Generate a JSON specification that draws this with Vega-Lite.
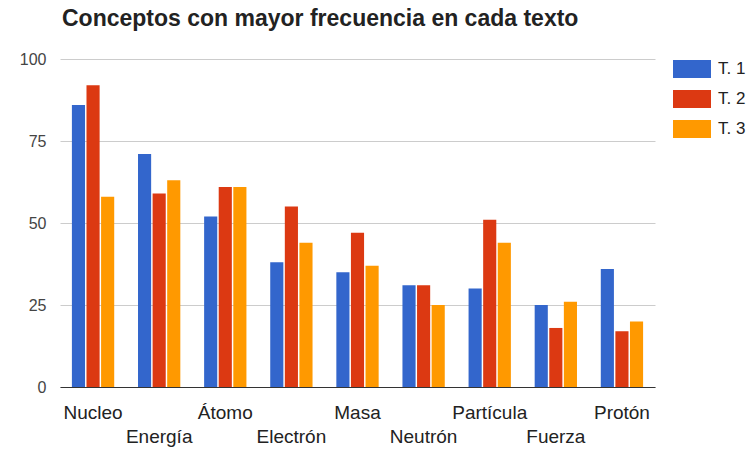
{
  "$schema": "https://vega.github.io/schema/vega-lite/v6.json",
  "width": 595,
  "height": 328,
  "autosize": {"type": "none"},
  "padding": {"left": 60, "top": 59, "right": 100, "bottom": 63},
  "background": "white",
  "title": {
    "text": "Conceptos con mayor frecuencia en cada texto",
    "anchor": "start",
    "frame": "group",
    "font": "Liberation Sans",
    "fontSize": 23,
    "fontWeight": "bold",
    "color": "#222222",
    "offset": 19,
    "dx": 2
  },
  "data": {
    "values": [
      {"concepto": "Nucleo", "texto": "T. 1", "valor": 86},
      {"concepto": "Nucleo", "texto": "T. 2", "valor": 92},
      {"concepto": "Nucleo", "texto": "T. 3", "valor": 58},
      {"concepto": "Energía", "texto": "T. 1", "valor": 71},
      {"concepto": "Energía", "texto": "T. 2", "valor": 59},
      {"concepto": "Energía", "texto": "T. 3", "valor": 63},
      {"concepto": "Átomo", "texto": "T. 1", "valor": 52},
      {"concepto": "Átomo", "texto": "T. 2", "valor": 61},
      {"concepto": "Átomo", "texto": "T. 3", "valor": 61},
      {"concepto": "Electrón", "texto": "T. 1", "valor": 38},
      {"concepto": "Electrón", "texto": "T. 2", "valor": 55},
      {"concepto": "Electrón", "texto": "T. 3", "valor": 44},
      {"concepto": "Masa", "texto": "T. 1", "valor": 35},
      {"concepto": "Masa", "texto": "T. 2", "valor": 47},
      {"concepto": "Masa", "texto": "T. 3", "valor": 37},
      {"concepto": "Neutrón", "texto": "T. 1", "valor": 31},
      {"concepto": "Neutrón", "texto": "T. 2", "valor": 31},
      {"concepto": "Neutrón", "texto": "T. 3", "valor": 25},
      {"concepto": "Partícula", "texto": "T. 1", "valor": 30},
      {"concepto": "Partícula", "texto": "T. 2", "valor": 51},
      {"concepto": "Partícula", "texto": "T. 3", "valor": 44},
      {"concepto": "Fuerza", "texto": "T. 1", "valor": 25},
      {"concepto": "Fuerza", "texto": "T. 2", "valor": 18},
      {"concepto": "Fuerza", "texto": "T. 3", "valor": 26},
      {"concepto": "Protón", "texto": "T. 1", "valor": 36},
      {"concepto": "Protón", "texto": "T. 2", "valor": 17},
      {"concepto": "Protón", "texto": "T. 3", "valor": 20}
    ]
  },
  "mark": {"type": "bar"},
  "encoding": {
    "x": {
      "field": "concepto",
      "type": "nominal",
      "sort": null,
      "scale": {"paddingInner": 0.36, "paddingOuter": 0.18},
      "axis": {
        "title": null,
        "labelAngle": 0,
        "labelFont": "Liberation Sans",
        "labelFontSize": 19,
        "labelColor": "#222222",
        "labelPadding": 16,
        "labelBaseline": "top",
        "labelLineHeight": 24,
        "labelExpr": "indexof(['Energía','Electrón','Neutrón','Fuerza'], datum.value) >= 0 ? ['', datum.value] : datum.value",
        "ticks": false,
        "domainColor": "#333333",
        "domainWidth": 1,
        "grid": false
      }
    },
    "xOffset": {
      "field": "texto",
      "type": "nominal",
      "scale": {"paddingInner": 0.1}
    },
    "y": {
      "field": "valor",
      "type": "quantitative",
      "scale": {"domain": [0, 100], "nice": false},
      "axis": {
        "title": null,
        "values": [0, 25, 50, 75, 100],
        "labelFont": "Liberation Sans",
        "labelFontSize": 16,
        "labelColor": "#444444",
        "labelPadding": 14,
        "ticks": false,
        "domain": false,
        "gridColor": "#cccccc",
        "gridWidth": 1
      }
    },
    "color": {
      "field": "texto",
      "type": "nominal",
      "scale": {"domain": ["T. 1", "T. 2", "T. 3"], "range": ["#3366cc", "#dc3912", "#ff9900"]},
      "legend": {
        "title": null,
        "orient": "none",
        "legendX": 613,
        "legendY": -9,
        "symbolType": "M-1,-0.47H1V0.47H-1Z",
        "symbolSize": 1444,
        "symbolStrokeWidth": 0,
        "symbolOpacity": 1,
        "labelFont": "Liberation Sans",
        "labelFontSize": 17,
        "labelColor": "#222222",
        "labelOffset": 7,
        "rowPadding": 2
      }
    }
  },
  "config": {
    "view": {"stroke": null}
  }
}
